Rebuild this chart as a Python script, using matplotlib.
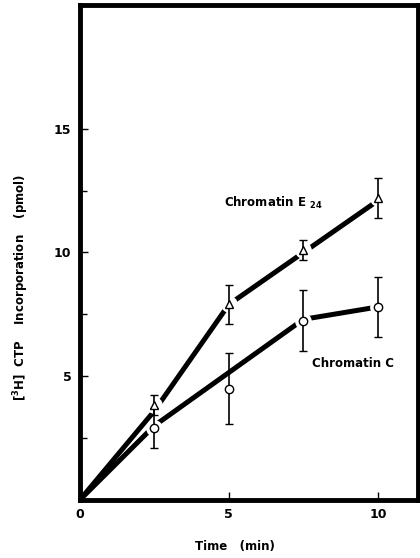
import matplotlib.pyplot as plt

# --- Data ---------------------------------------------------------------------
TIME = [2.5, 5, 7.5, 10]

E24_MEAN = [3.85, 7.9, 10.1, 12.2]
E24_ERR  = [0.4, 0.8, 0.4, 0.8]
E24_LINE_T = [0, 2.5, 5, 7.5, 10]
E24_LINE_Y = [0, 3.6, 7.9, 10.0, 12.1]

C_MEAN = [2.9, 4.5, 7.25, 7.8]
C_ERR  = [0.8, 1.45, 1.25, 1.2]
C_LINE_T = [0, 2.5, 7.5, 10]
C_LINE_Y = [0, 3.0, 7.3, 7.8]

XTICKS = [0, 5, 10]
YTICKS = [5, 10, 15]

# --- Plot ---------------------------------------------------------------------
plt.rcParams['font.family'] = ['DejaVu Sans']
plt.rcParams['font.weight'] = 'bold'
plt.rcParams['mathtext.default'] = 'bf'

fig = plt.figure(figsize=(4.2, 5.58), dpi=100)
ax = fig.add_axes([0.190, 0.104, 0.805, 0.887])

# fitted lines
ax.plot(E24_LINE_T, E24_LINE_Y, color='black', linewidth=3.6,
        solid_capstyle='butt', zorder=2)
ax.plot(C_LINE_T, C_LINE_Y, color='black', linewidth=3.6,
        solid_capstyle='butt', zorder=2)

# white knockouts so the lines break around the symbols
ax.plot(TIME, E24_MEAN, linestyle='none', marker='o', markersize=11,
        color='white', zorder=3)
ax.plot(TIME, C_MEAN, linestyle='none', marker='o', markersize=11,
        color='white', zorder=3)

# data points with error bars
ax.errorbar(TIME, E24_MEAN, yerr=E24_ERR, fmt='^', color='black',
            markerfacecolor='white', markersize=6, markeredgewidth=1.0,
            elinewidth=1.2, capsize=3, capthick=1.2, zorder=4)
ax.errorbar(TIME, C_MEAN, yerr=C_ERR, fmt='o', color='black',
            markerfacecolor='white', markersize=6, markeredgewidth=1.0,
            elinewidth=1.2, capsize=3, capthick=1.2, zorder=4)

# series labels
ax.text(4.85, 12.0, r'Chromatin E $_{24}$', fontsize=8.5,
        fontweight='bold', ha='left', va='center')
ax.text(7.8, 5.5, 'Chromatin C', fontsize=8.5,
        fontweight='bold', ha='left', va='center')

ax.set_xlim(0, 11.34)
ax.set_ylim(0, 20)
ax.set_xticks(XTICKS)
ax.set_yticks(YTICKS)
ax.set_yticks([2.5, 7.5, 12.5], minor=True)
ax.tick_params(axis='both', which='both', direction='in', width=1.0,
               labelsize=9, pad=6)
ax.tick_params(axis='both', which='major', length=6)
ax.tick_params(axis='both', which='minor', length=5)
ax.tick_params(top=False, right=False)
for lbl in ax.get_xticklabels() + ax.get_yticklabels():
    lbl.set_fontweight('bold')

for side in ['left', 'right', 'top', 'bottom']:
    ax.spines[side].set_linewidth(3.5)

ax.set_xlabel('Time   (min)', fontsize=8.5, fontweight='bold')
ax.xaxis.set_label_coords(0.46, -0.08)
ax.set_ylabel(r'[$^{3}$H]  CTP    Incorporation    (pmol)',
              fontsize=8.5, fontweight='bold')
ax.yaxis.set_label_coords(-0.145, 0.43)

plt.savefig('out.png', dpi=100)
